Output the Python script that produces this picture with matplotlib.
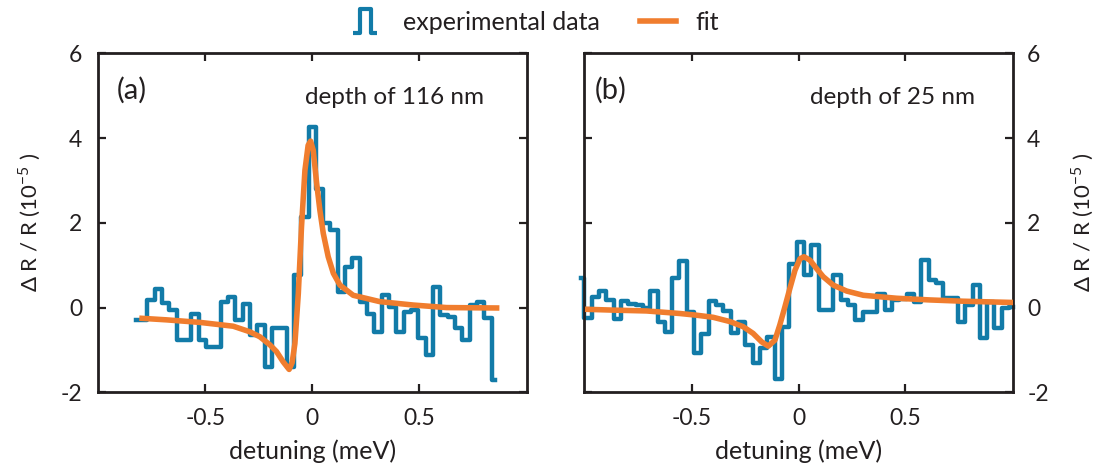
import numpy as np
import matplotlib
matplotlib.use('Agg')
import matplotlib.pyplot as plt
from matplotlib.lines import Line2D
from matplotlib.path import Path

plt.rcParams['font.family'] = ['Lato', 'DejaVu Sans']
plt.rcParams['mathtext.fontset'] = 'custom'
plt.rcParams['mathtext.rm'] = 'Lato'
plt.rcParams['axes.unicode_minus'] = False

BLUE = '#127ba8'
ORANGE = '#f07d2e'
INK = '#231f20'

# bin spacing of the measured spectra (meV)
dx = 0.0343

# (a) depth of 116 nm -- measured dR/R (1e-5), bins k = -24 .. 25 around zero detuning
data_a = [-0.29, -0.29, 0.19, 0.44, 0.10, -0.06, -0.77, -0.77, -0.15, -0.77,
          -0.94, -0.94, 0.12, 0.24, -0.29, 0.08, -0.65, -0.40, -1.40, -0.49,
          -0.49, -1.40, 0.77, 2.13, 4.27, 2.81, 1.99, 1.84, 0.37, 0.95,
          1.16, 0.14, -0.15, -0.57, 0.29, 0.02, -0.57, -0.10, -0.06, -0.73,
          -1.12, 0.49, -0.18, -0.22, -0.49, -0.77, 0.06, 0.12, -0.24, -1.71]
bins_a = np.arange(-24, 26)

# (a) fit curve
fit_a_x = [-0.81, -0.682, -0.526, -0.37, -0.293, -0.245, -0.198, -0.167, -0.136,
           -0.108, -0.094, -0.081, -0.065, -0.050, -0.034, -0.019, -0.0075, 0.005,
           0.021, 0.036, 0.052, 0.075, 0.099, 0.130, 0.192, 0.317, 0.473, 0.629, 0.877]
fit_a_y = [-0.25, -0.29, -0.35, -0.44, -0.57, -0.69, -0.88, -1.04, -1.28,
           -1.46, -1.30, -0.85, 0.33, 1.91, 3.24, 3.83, 3.93, 3.71,
           2.93, 2.30, 1.75, 1.20, 0.81, 0.53, 0.29, 0.14, 0.06, 0.0, -0.01]

# (b) depth of 25 nm -- measured dR/R (1e-5), bins j = -30 .. 29
data_b = [0.69, -0.25, 0.26, 0.40, 0.17, -0.28, 0.16, 0.08, 0.06, 0.0,
          0.38, -0.33, -0.57, 0.69, 1.10, -0.10, -1.08, -0.63, 0.16, 0.06,
          -0.08, -0.60, -0.35, -0.88, -1.32, -0.96, -0.70, -1.69, -0.45, 1.04,
          1.55, 0.77, 1.47, -0.06, -0.06, 0.77, 0.18, 0.06, -0.29, -0.10,
          -0.10, 0.33, -0.06, 0.18, 0.20, 0.33, 0.14, 1.12, 0.65, 0.57,
          0.22, 0.22, -0.33, 0.06, 0.53, -0.73, 0.14, -0.49, -0.02, 0.02]
bins_b = np.arange(-30, 30)
offset_b = 0.00815

# (b) fit curve
fit_b_x = [-1.0, -0.869, -0.712, -0.556, -0.478, -0.40, -0.322, -0.26, -0.213,
           -0.173, -0.142, -0.111, -0.088, -0.064, -0.041, -0.017, 0.006, 0.025,
           0.053, 0.084, 0.115, 0.162, 0.225, 0.303, 0.459, 0.615, 0.771, 1.006]
fit_b_y = [-0.04, -0.06, -0.08, -0.14, -0.18, -0.23, -0.33, -0.45, -0.61,
           -0.81, -0.91, -0.77, -0.41, 0.02, 0.45, 0.88, 1.15, 1.20,
           1.12, 0.92, 0.73, 0.53, 0.39, 0.29, 0.22, 0.18, 0.15, 0.12]

xticks = [-0.5, 0, 0.5]
xticklabels = ['-0.5', '0', '0.5']
yticks = [-2, 0, 2, 4, 6]
yticklabels = ['-2', '0', '2', '4', '6']
ylabel = r'$\Delta$ R / R (10$^{-5}$ )'

fig = plt.figure(figsize=(11.01, 4.63), dpi=100)
ax1 = fig.add_axes([0.0887, 0.1527, 0.3897, 0.732])
ax2 = fig.add_axes([0.5304, 0.1527, 0.3899, 0.732])

ax1.step(bins_a * dx, data_a, where='mid', color=BLUE, lw=3.2, zorder=2)
ax1.plot(fit_a_x, fit_a_y, color=ORANGE, lw=4.0, zorder=3, solid_capstyle='butt')
ax2.step(bins_b * dx + offset_b, data_b, where='mid', color=BLUE, lw=3.2, zorder=2,
         clip_on=False)
ax2.plot(fit_b_x, fit_b_y, color=ORANGE, lw=4.0, zorder=3, solid_capstyle='butt')

for ax in (ax1, ax2):
    ax.set_xlim(-1.005, 1.005)
    ax.set_ylim(-2, 6)
    ax.set_xticks(xticks)
    ax.set_xticklabels(xticklabels)
    ax.set_yticks(yticks)
    ax.set_yticklabels(yticklabels)
    ax.tick_params(direction='in', length=6, width=1.6, top=True, right=True,
                   labelsize=16.5, colors=INK, pad=8)
    ax.tick_params(axis='x', pad=11)
    for s in ax.spines.values():
        s.set_linewidth(2.0)
        s.set_color(INK)
    ax.set_xlabel('detuning (meV)', fontsize=18, color=INK, labelpad=8)

ax1.set_ylabel(ylabel, fontsize=16, color=INK, labelpad=13)
ax1.tick_params(axis='y', pad=11)

ax2.tick_params(axis='y', labelleft=False, labelright=True, pad=10)
ax2.yaxis.set_label_position('right')
ax2.set_ylabel(ylabel, fontsize=16, color=INK, labelpad=15, rotation=90)

ax1.text(0.044, 0.892, '(a)', transform=ax1.transAxes, fontsize=21, color=INK,
         va='center', ha='left')
ax1.text(0.484, 0.87, 'depth of 116 nm', transform=ax1.transAxes, fontsize=17.5,
         color=INK, va='center', ha='left')
ax2.text(0.026, 0.892, '(b)', transform=ax2.transAxes, fontsize=21, color=INK,
         va='center', ha='left')
ax2.text(0.527, 0.87, 'depth of 25 nm', transform=ax2.transAxes, fontsize=17.5,
         color=INK, va='center', ha='left')

# step-shaped legend marker for the measured data
step_icon = Path([(-1, -1), (-0.45, -1), (-0.45, 1), (0.55, 1), (0.55, -1), (1, -1)],
                 [Path.MOVETO] + [Path.LINETO] * 5)
handles = [Line2D([], [], ls='none', marker=step_icon, markersize=17,
                  markerfacecolor='none', markeredgecolor=BLUE, markeredgewidth=3.0),
           Line2D([], [], color=ORANGE, lw=4.0)]
fig.legend(handles, ['experimental data', 'fit'], loc='center',
           bbox_to_anchor=(0.484, 0.952), ncol=2, frameon=False, fontsize=18,
           handlelength=1.45, handletextpad=0.8, columnspacing=1.6, labelcolor=INK)

fig.savefig('out.png', dpi=100)
